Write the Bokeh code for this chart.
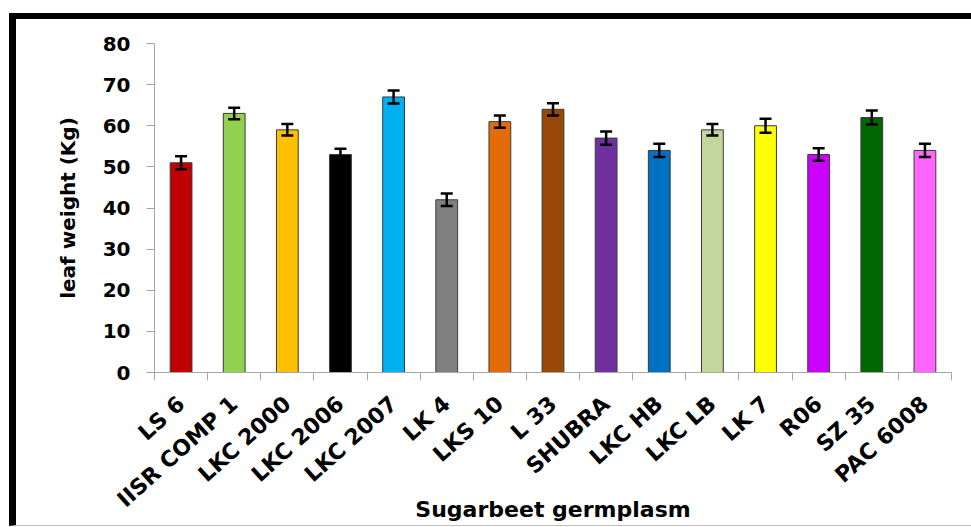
import math
from bokeh.plotting import figure
from bokeh.models import ColumnDataSource, FixedTicker, Range1d, Whisker, TeeHead
from bokeh.layouts import column
from bokeh.embed import file_html
from bokeh.resources import INLINE

categories = ["LS 6", "IISR COMP 1", "LKC 2000", "LKC 2006", "LKC 2007", "LK 4",
              "LKS 10", "L 33", "SHUBRA", "LKC HB", "LKC LB", "LK 7", "R06",
              "SZ 35", "PAC 6008"]
leaf_weight = [51, 63, 59, 53, 67, 42, 61, 64, 57, 54, 59, 60, 53, 62, 54]
errors = [1.6, 1.4, 1.4, 1.4, 1.6, 1.5, 1.5, 1.5, 1.6, 1.6, 1.4, 1.7, 1.5, 1.7, 1.6]
colors = ["#C00000", "#92D050", "#FFC000", "#000000", "#00B0F0", "#808080",
          "#E36C09", "#984807", "#7030A0", "#0070C0", "#C3D69B", "#FFFF00",
          "#CC00FF", "#006600", "#FF66FF"]
y_ticks = [0, 10, 20, 30, 40, 50, 60, 70, 80]
x_title = "Sugarbeet germplasm"
y_title = "leaf weight (Kg)"

n = len(categories)
centers = [i + 0.5 for i in range(n)]
src = ColumnDataSource(dict(
    x=centers, top=leaf_weight, color=colors,
    upper=[v + e for v, e in zip(leaf_weight, errors)],
    lower=[v - e for v, e in zip(leaf_weight, errors)],
))

FONT = "DejaVu Sans"
GRAY = "#A6A6A6"

p = figure(width=955, height=506, output_backend="svg", toolbar_location=None,
           x_range=Range1d(0, n), y_range=Range1d(0, 80),
           min_border_left=138, min_border_right=20, min_border_top=24,
           min_border_bottom=153)
p.outline_line_color = None
p.grid.visible = False

p.vbar(x="x", top="top", width=0.41, fill_color="color", line_color="#3A3A3A",
       line_width=1, source=src)

w = Whisker(base="x", upper="upper", lower="lower", source=src, level="overlay",
            line_color="black", line_width=2.5,
            upper_head=TeeHead(size=12, line_color="black", line_width=2.5),
            lower_head=TeeHead(size=12, line_color="black", line_width=2.5))
p.add_layout(w)

# y axis
ya = p.yaxis[0]
ya.ticker = FixedTicker(ticks=y_ticks)
ya.axis_line_color = GRAY
ya.major_tick_line_color = GRAY
ya.major_tick_out = 8
ya.major_tick_in = 0
ya.minor_tick_line_color = None
ya.major_label_text_font = FONT
ya.major_label_text_font_style = "bold"
ya.major_label_text_font_size = "20px"
ya.major_label_text_color = "black"
ya.major_label_standoff = 16
ya.axis_label = y_title
ya.axis_label_text_font = FONT
ya.axis_label_text_font_style = "bold"
ya.axis_label_text_font_size = "20px"
ya.axis_label_text_color = "black"
ya.axis_label_standoff = 20

# x axis
xa = p.xaxis[0]
xa.ticker = FixedTicker(ticks=centers, minor_ticks=list(range(n + 1)))
xa.major_label_overrides = {c: name for c, name in zip(centers, categories)}
xa.axis_line_color = GRAY
xa.major_tick_line_color = None
xa.major_tick_out = 0
xa.major_tick_in = 0
xa.minor_tick_line_color = GRAY
xa.minor_tick_out = 8
xa.minor_tick_in = 0
xa.major_label_orientation = math.radians(42)
xa.major_label_text_font = FONT
xa.major_label_text_font_style = "bold"
xa.major_label_text_font_size = "22px"
xa.major_label_text_color = "black"
xa.major_label_standoff = 20
xa.axis_label = x_title
xa.axis_label_text_font = FONT
xa.axis_label_text_font_style = "bold"
xa.axis_label_text_font_size = "22px"
xa.axis_label_text_color = "black"
xa.axis_label_standoff = -27

layout = column(p, styles={"border-top": "6px solid black",
                           "border-left": "7px solid black",
                           "border-bottom": "1px solid #C0C0C0",
                           "margin-top": "13px", "margin-left": "9px"})

open("out.html", "w").write(file_html(layout, INLINE))
